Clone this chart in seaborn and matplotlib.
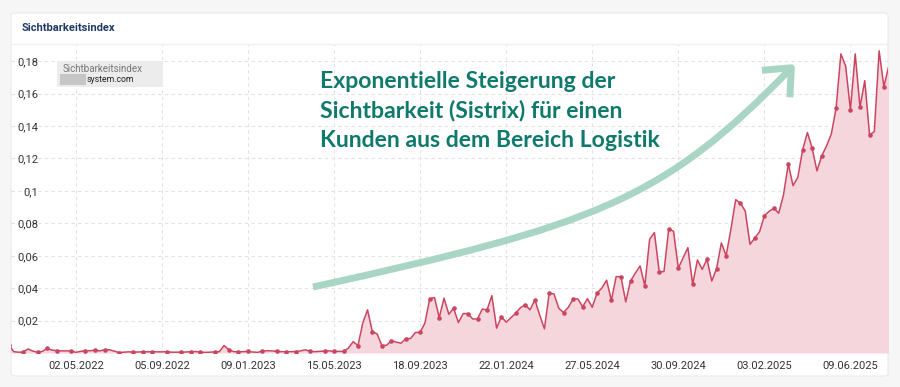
import pandas as pd
import matplotlib
matplotlib.use("Agg")
import matplotlib.pyplot as plt
from matplotlib.patches import FancyBboxPatch, FancyArrowPatch, ArrowStyle
from matplotlib.lines import Line2D
from matplotlib.path import Path
import seaborn as sns

# --------------------------------------------------
# Weekly Sistrix visibility index, first week 24.01.2022
# --------------------------------------------------
start_date = "2022-01-24"

vis_2022 = [
    0.005, 0.0008, 0.0005, 0.0005, 0.0025, 0.0012, 0.0004, 0.001, 0.0028, 0.0018,
    0.0014, 0.0013, 0.0013, 0.0013, 0.0004, 0.001, 0.0014, 0.0014, 0.0017, 0.0013,
    0.002, 0.002, 0.0012, 0.0003, 0.0005, 0.0007, 0.0006, 0.0006, 0.0008, 0.0007,
    0.0008, 0.0007, 0.0007, 0.0008, 0.0005, 0.0005, 0.0005, 0.0006, 0.0008, 0.0009,
    0.0005, 0.0004, 0.0005, 0.0007, 0.0008, 0.0046, 0.002, 0.0008, 0.0008,
]
vis_2023 = [
    0.0008, 0.001, 0.0006, 0.0004, 0.0011, 0.0014, 0.0013, 0.001, 0.0008, 0.0008,
    0.0008, 0.0009, 0.0013, 0.002, 0.001, 0.0008, 0.001, 0.0012, 0.0013, 0.001,
    0.001, 0.001, 0.003, 0.007, 0.0046, 0.0184, 0.0266, 0.0132, 0.0118, 0.0046,
    0.0048, 0.0077, 0.0067, 0.006, 0.0089, 0.0089, 0.0126, 0.0128, 0.0184, 0.0334,
    0.0342, 0.0218, 0.0338, 0.0239, 0.0276, 0.0188, 0.0243, 0.0243, 0.021, 0.021,
    0.0271, 0.0266,
]
vis_2024 = [
    0.0354, 0.0153, 0.0224, 0.019, 0.0218, 0.0245, 0.028, 0.0297, 0.0266, 0.0328,
    0.0235, 0.0149, 0.037, 0.0364, 0.0276, 0.0249, 0.0282, 0.0333, 0.0333, 0.0286,
    0.0335, 0.0282, 0.037, 0.04, 0.0449, 0.0325, 0.0471, 0.0471, 0.0315, 0.0444,
    0.0492, 0.0537, 0.0415, 0.0701, 0.0743, 0.0502, 0.0502, 0.0765, 0.0751, 0.0523,
    0.0586, 0.065, 0.0424, 0.0574, 0.0516, 0.0578, 0.0444, 0.052, 0.0679, 0.06,
    0.0763, 0.0946, 0.0924,
]
vis_2025 = [
    0.0875, 0.067, 0.071, 0.0748, 0.0847, 0.0874, 0.0893, 0.0862, 0.0975, 0.1166,
    0.1032, 0.1084, 0.1253, 0.136, 0.1263, 0.1123, 0.1216, 0.1277, 0.135, 0.151,
    0.1845, 0.177, 0.15, 0.1845, 0.1516, 0.168, 0.1345, 0.1366, 0.1864, 0.1643,
    0.1767,
]

tick_labels = [
    "02.05.2022", "05.09.2022", "09.01.2023", "15.05.2023", "18.09.2023",
    "22.01.2024", "27.05.2024", "30.09.2024", "03.02.2025", "09.06.2025",
]
y_ticks = [0.02, 0.04, 0.06, 0.08, 0.1, 0.12, 0.14, 0.16, 0.18]

headline = [
    "Exponentielle Steigerung der",
    "Sichtbarkeit (Sistrix) für einen",
    "Kunden aus dem Bereich Logistik",
]

values = vis_2022 + vis_2023 + vis_2024 + vis_2025
df = pd.DataFrame({
    "date": pd.date_range(start_date, periods=len(values), freq="7D"),
    "vis": values,
})

# colours
line_color = "#cc4560"
fill_color = "#f4d6dc"
grid_color = "#e3e3e3"
teal = "#0f7a6c"
mint = "#a9d5c5"

sns.set_theme(style="white")
plt.rcParams["font.family"] = ["Roboto", "DejaVu Sans"]

W, H = 900, 387
fig = plt.figure(figsize=(W / 100, H / 100), dpi=100, facecolor="#f6f6f6")


def fx(px):
    return px / W


def fy(py):
    return 1 - py / H


# white card
card = FancyBboxPatch(
    (fx(11), fy(376)), fx(888) - fx(11), fy(13) - fy(376),
    boxstyle="round,pad=0,rounding_size=0.006",
    transform=fig.transFigure, facecolor="white", edgecolor="#ebebeb",
    lw=0.8, zorder=0,
)
fig.add_artist(card)
fig.add_artist(Line2D([fx(11), fx(888)], [fy(44), fy(44)],
                      transform=fig.transFigure, color="#f0f0f0", lw=1))
fig.text(fx(22), fy(28), "Sichtbarkeitsindex", fontsize=8, weight="bold",
         color="#1f3a66", va="center")

# plot area
ax = fig.add_axes([fx(11), fy(353), fx(888) - fx(11), fy(45) - fy(353)])
ax.set_facecolor("none")

ax.fill_between(df["date"], df["vis"], color=fill_color, lw=0, zorder=1)
marker_idx = [int(round(k * 2.5 + 0.5)) for k in range(74) if k * 2.5 + 0.5 < len(values)]
sns.lineplot(data=df, x="date", y="vis", ax=ax, color=line_color, lw=1.1,
             marker="o", markevery=marker_idx, markersize=3.3,
             markeredgewidth=0, zorder=3)

ax.set_ylim(0, 0.19)
ax.set_xlim(df["date"].iloc[0] + pd.Timedelta(days=3),
            df["date"].iloc[0] + pd.Timedelta(days=1287))
ax.set_yticks(y_ticks)
ax.set_yticklabels([f"{v:g}".replace(".", ",") for v in y_ticks])
ax.set_xticks(pd.to_datetime(tick_labels, dayfirst=True))
ax.set_xticklabels(tick_labels)
ax.set_xlabel("")
ax.set_ylabel("")
ax.grid(True, ls=(0, (3, 3)), color=grid_color, lw=0.8, zorder=0)
ax.set_axisbelow(True)
for s in ax.spines.values():
    s.set_visible(False)
ax.tick_params(axis="y", length=0, pad=-19.5, labelsize=8, labelcolor="#333333")
ax.tick_params(axis="x", length=0, pad=6, labelsize=8, labelcolor="#333333")

# legend box
leg = FancyBboxPatch(
    (fx(57), fy(87)), fx(163) - fx(57), fy(61) - fy(87),
    boxstyle="round,pad=0,rounding_size=0.003",
    transform=fig.transFigure, facecolor="#ececec", edgecolor="none", zorder=5,
)
fig.add_artist(leg)
fig.text(fx(63), fy(69), "Sichtbarkeitsindex", fontsize=7, color="#777777",
         va="center", zorder=6)
blur = FancyBboxPatch(
    (fx(60), fy(85)), fx(86) - fx(60), fy(74) - fy(85),
    boxstyle="square,pad=0", transform=fig.transFigure,
    facecolor="#c6c6c6", edgecolor="none", zorder=6,
)
fig.add_artist(blur)
fig.text(fx(86.5), fy(79.5), "system.com", fontsize=6.3, color="#222222",
         va="center", zorder=6)

# headline
for k, line in enumerate(headline):
    fig.text(fx(320), fy(88 + k * 29.5), line, fontsize=16.6, weight="bold",
             color=teal, family=["Lato", "DejaVu Sans"], va="baseline")

# growth arrow
pts = [(313, 287), (595, 225), (663, 201), (795, 64)]
arrow_path = Path([(fx(x), fy(y)) for x, y in pts],
                  [Path.MOVETO, Path.CURVE4, Path.CURVE4, Path.CURVE4])
arrow = FancyArrowPatch(
    path=arrow_path, transform=fig.transFigure,
    arrowstyle=ArrowStyle("->", head_length=16, head_width=14),
    mutation_scale=1, color=mint, lw=5, capstyle="butt", zorder=7,
)
fig.add_artist(arrow)

fig.savefig("out.png", dpi=100, facecolor=fig.get_facecolor())
